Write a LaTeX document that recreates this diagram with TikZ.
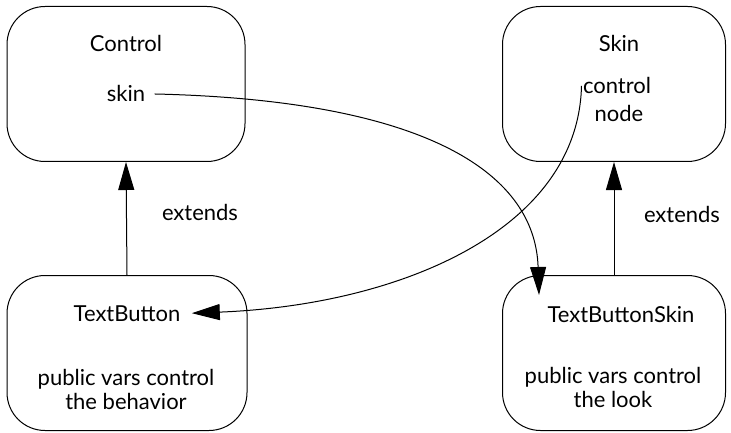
\documentclass[tikz,border=0pt]{standalone}
\usepackage{fontspec}
\setmainfont{Lato}
\usetikzlibrary{arrows.meta, positioning, calc}

\begin{document}
\begin{tikzpicture}[x=1pt, y=-1pt, line width=1pt,
    box/.style={draw, rounded corners=38pt, minimum width=#1, minimum height=155pt},
    txt/.style={inner sep=1pt, font=\fontsize{22}{24}\selectfont, anchor=base},
    tip/.style={-{Triangle[length=28pt, width=16pt]}}]
    \useasboundingbox (0,0) rectangle (731,433);

    % Boxes
    \node[box=238pt] (control) at (126,84) {};
    \node[box=223pt] (skinbox) at (614,84) {};
    \node[box=240pt] (button) at (127,353) {};
    \node[box=223pt] (buttonskin) at (614,353) {};

    % Titles
    \node[txt] (controltitle) at (126,52) {Control};
    \node[txt] (skintitle) at (619,52) {Skin};
    \node[txt] (buttontitle) at (127,321) {TextButton};
    \node[txt] (buttonskintitle) at (621,322) {TextButtonSkin};

    % Members
    \node[txt] (skinvar) at (126,102) {skin};
    \node[txt] (ctrlvar) at (617,94) {control};
    \node[txt] (nodevar) at (619,122) {node};

    % Notes
    \node[txt, align=center, anchor=center] (buttonnote) at (126,389) {public vars control\\the behavior};
    \node[txt, align=center, anchor=center] (buttonskinnote) at (613,387) {public vars control\\the look};

    % Inheritance
    \draw[tip] (button.north) -- (control.south);
    \draw[tip] (buttonskin.north) -- (skinbox.south);
    \node[txt] (extleft) at (200,220) {extends};
    \node[txt] (extright) at (682,222) {extends};

    % References
    \coordinate (skinend) at (539,295);
    \draw[tip] ($(skinvar.east)+(8,0)$) .. controls (420,100) and (535,170) .. (skinend);
    \draw[tip] (ctrlvar.west) .. controls (578,230) and (400,305) .. ($(buttontitle.east)+(10,0)$);
\end{tikzpicture}
\end{document}
